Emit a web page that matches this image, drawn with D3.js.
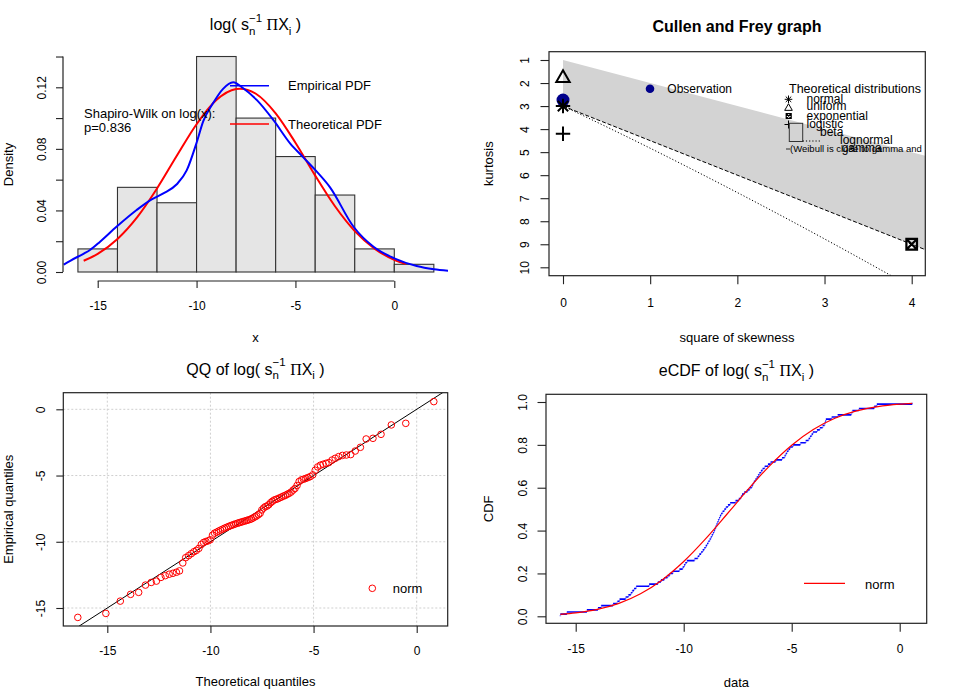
<!DOCTYPE html>
<html><head><meta charset="utf-8">
<script src="https://cdn.jsdelivr.net/npm/d3@7"></script>
<style>body{margin:0;background:#fff}</style>
</head><body><script>
// ---------------- DATA ----------------
const histBreaks = [-16,-14,-12,-10,-8,-6,-4,-2,0,2];
const histDensity = [0.015,0.055,0.045,0.14,0.10,0.075,0.05,0.015,0.005];
const empPdfX = [-16.72,-16.39,-15.7,-15.39,-14.88,-14.05,-13.03,-12.27,-11.68,-11.0,-10.5,-10.0,-9.66,-9.17,-8.66,-8.15,-7.64,-6.96,-6.12,-5.27,-4.6,-4.0,-3.25,-2.06,-1.05,0,1.13,2.0,2.72];
const empPdfY = [0.0048,0.0073,0.0120,0.0143,0.0197,0.0294,0.0403,0.0472,0.0511,0.0570,0.0660,0.0840,0.0980,0.1096,0.1190,0.1233,0.1194,0.1118,0.0988,0.0836,0.0745,0.0663,0.0550,0.0294,0.0164,0.0089,0.0039,0.0018,0.0008];
const theoPdfX = [-15.71,-15,-14,-13,-12,-11,-10,-9,-8,-7.8,-7,-6,-5,-4,-3,-2,-1,0,0.58];
const theoPdfY = [0.0073,0.0118,0.0215,0.0357,0.0543,0.0755,0.0960,0.1117,0.1189,0.1191,0.1158,0.1031,0.0840,0.0626,0.0427,0.0266,0.0152,0.0079,0.0052];
const histXTicks = [-15,-10,-5,0];
const histYTicks = [0,0.02,0.04,0.06,0.08,0.10,0.12,0.14];
const histYLabels = ["0.00","","0.04","","0.08","","0.12",""];

const cfSkew2 = [0, 4.3];
const cfKurtLimit = [1, 5.3];
const cfKurtGamma = [3, 9.45];
const cfLognormS2 = [0,0.465,0.961,1.488,2.048,2.641,3.267,3.928];
const cfLognormKurt = [3,3.838,4.756,5.759,6.850,8.035,9.320,10.71];
const obsSkew2 = [0.0];
const obsKurt = [2.74];
const theoNames = ["normal","uniform","exponential","logistic"];
const theoSkew2 = [0,0,4,0];
const theoKurt = [3,1.8,9,4.2];
const cfXTicks = [0,1,2,3,4];
const cfYTicks = [1,2,3,4,5,6,7,8,9,10];

const theoQuantiles = [-16.43,-15.07,-14.37,-13.87,-13.48,-13.15,-12.87,-12.62,-12.40,-12.19,
 -12.00,-11.82,-11.65,-11.50,-11.34,-11.20,-11.06,-10.93,-10.80,-10.68,
 -10.56,-10.44,-10.33,-10.22,-10.11,-10.01,-9.90,-9.80,-9.70,-9.61,
 -9.51,-9.41,-9.32,-9.23,-9.14,-9.05,-8.96,-8.87,-8.78,-8.69,
 -8.60,-8.52,-8.43,-8.35,-8.26,-8.18,-8.09,-8.01,-7.93,-7.84,
 -7.76,-7.67,-7.59,-7.51,-7.42,-7.34,-7.25,-7.17,-7.08,-7.00,
 -6.91,-6.82,-6.73,-6.64,-6.55,-6.46,-6.37,-6.28,-6.19,-6.09,
 -5.99,-5.90,-5.80,-5.70,-5.59,-5.49,-5.38,-5.27,-5.16,-5.04,
 -4.92,-4.80,-4.67,-4.54,-4.40,-4.26,-4.10,-3.95,-3.78,-3.60,
 -3.41,-3.20,-2.98,-2.73,-2.45,-2.12,-1.73,-1.23,-0.53,0.83];
const sampleSorted = [-15.71,-15.41,-14.48,-13.97,-13.82,-13.27,-13.07,-12.97,-12.69,-12.56,
 -12.45,-12.38,-12.30,-12.20,-11.60,-11.20,-11.05,-10.90,-10.75,-10.65,
 -10.50,-10.20,-10.05,-9.98,-9.93,-9.85,-9.50,-9.35,-9.28,-9.20,
 -9.12,-9.05,-8.98,-8.92,-8.86,-8.80,-8.75,-8.70,-8.65,-8.60,
 -8.56,-8.52,-8.48,-8.44,-8.40,-8.36,-8.32,-8.27,-8.20,-8.12,
 -8.05,-7.95,-7.85,-7.60,-7.45,-7.35,-7.30,-7.20,-7.05,-6.95,
 -6.85,-6.80,-6.75,-6.68,-6.62,-6.55,-6.50,-6.42,-6.35,-6.25,
 -6.10,-5.98,-5.75,-5.45,-5.33,-5.28,-5.22,-5.15,-5.08,-4.95,
 -4.60,-4.35,-4.22,-4.15,-4.08,-4.02,-3.83,-3.70,-3.57,-3.48,
 -3.45,-3.42,-3.15,-2.87,-2.24,-2.19,-1.89,-1.18,-1.06,0.58];
const qqRefLine = [-17.5, 2.0];
const qqXTicks = [-15,-10,-5,0];
const qqYTicks = [0,-5,-10,-15];

const theoCdfX = [-15.71,-15,-14,-13,-12,-11,-10,-9,-8,-7,-6,-5,-4,-3,-2,-1,0,0.58];
const theoCdfY = [0.0091,0.0158,0.0321,0.0603,0.1050,0.1698,0.2557,0.3601,0.4762,0.5944,0.7044,0.7984,0.8716,0.9241,0.9583,0.9788,0.9900,0.9938];
const cdfXTicks = [-15,-10,-5,0];
const cdfYTicks = [0,0.2,0.4,0.6,0.8,1.0];
const cdfYLabels = ["0.0","0.2","0.4","0.6","0.8","1.0"];

// ---------------- SETUP ----------------
const FONT = '"Liberation Sans", Arial, Helvetica, sans-serif';
const SERIF = '"Liberation Serif", "DejaVu Serif", serif';
const svg = d3.select("body").append("svg").attr("width",960).attr("height",690).style("display","block");
svg.append("rect").attr("width",960).attr("height",690).attr("fill","#fff");
const defs = svg.append("defs");
function clip(id,x0,y0,x1,y1){defs.append("clipPath").attr("id",id).append("rect").attr("x",x0).attr("y",y0).attr("width",x1-x0).attr("height",y1-y0);return `url(#${id})`;}
function txt(parent,x,y,s,size,o={}){
  const t=parent.append("text").attr("x",x).attr("y",y).attr("font-size",size).attr("font-family",o.family||FONT)
   .attr("fill","#000").attr("text-anchor",o.anchor||"start").style("white-space","pre").text(s);
  if(o.weight) t.attr("font-weight",o.weight);
  if(o.rotate) t.attr("transform",`rotate(-90,${x},${y})`);
  return t;
}
function box(x0,y0,x1,y1){svg.append("rect").attr("x",x0).attr("y",y0).attr("width",x1-x0).attr("height",y1-y0).attr("fill","none").attr("stroke","#222").attr("stroke-width",1.2);}
function yAxis(scale,ticks,labels,x,tick,labOff,drawLine){
  const g=svg.append("g").attr("transform",`translate(${x},0)`).call(d3.axisLeft(scale).tickValues(ticks).tickSize(tick).tickFormat((d,i)=>labels?labels[i]:String(d)));
  g.select(".domain").remove();
  g.selectAll(".tick line").attr("stroke","#222").attr("stroke-width",1.1);
  g.selectAll(".tick text").attr("x",null).attr("dy",null).attr("text-anchor","middle")
   .attr("transform",`translate(${-labOff},0) rotate(-90)`).attr("font-size",12).attr("font-family",FONT).attr("fill","#000");
  if(drawLine) g.append("line").attr("y1",scale(ticks[0])).attr("y2",scale(ticks[ticks.length-1])).attr("stroke","#222").attr("stroke-width",1.2);
}
function xAxis(scale,ticks,labels,y,tick,labOff,drawLine){
  const g=svg.append("g").attr("transform",`translate(0,${y})`).call(d3.axisBottom(scale).tickValues(ticks).tickSize(tick).tickFormat((d,i)=>labels?labels[i]:String(d)));
  g.select(".domain").remove();
  g.selectAll(".tick line").attr("stroke","#222").attr("stroke-width",1.1);
  g.selectAll(".tick text").attr("y",labOff).attr("dy",null).attr("font-size",12).attr("font-family",FONT).attr("fill","#000");
  if(drawLine) g.append("line").attr("x1",scale(ticks[0])).attr("x2",scale(ticks[ticks.length-1])).attr("stroke","#222").attr("stroke-width",1.2);
}
function mathTitle(cx,base,prefix){
  const g=svg.append("g");const fs=16,ss=11.5;let x=0;
  const put=(s,size,dy,fam)=>{const t=g.append("text").attr("x",x).attr("y",base+dy).attr("font-size",size)
    .attr("font-family",fam||FONT).attr("fill","#000").style("white-space","pre").text(s);return t.node().getComputedTextLength();};
  x+=put(prefix+"log( s",fs,0);
  const a=put("n",ss,4.5),b=put("\u22121",ss,-8.5);
  x+=Math.max(a,b);
  x+=put(" ",fs,0);
  x+=put("\u03A0",fs,0,SERIF);
  x+=put("X",fs,0);
  x+=put("i",ss,4.5);
  x+=put(" )",fs,0);
  g.attr("transform",`translate(${cx-x/2},0)`);
}

// ---------------- PANEL 1: histogram + densities ----------------
{
  const x=d3.scaleLinear().domain([-15,0]).range([97.7,394.3]);
  const y=d3.scaleLinear().domain([0,0.12]).range([272,87.3]);
  const g=svg.append("g");
  g.selectAll("rect.bar").data(histDensity).join("rect").attr("class","bar")
   .attr("x",(d,i)=>x(histBreaks[i])).attr("width",(d,i)=>x(histBreaks[i+1])-x(histBreaks[i]))
   .attr("y",d=>y(d)).attr("height",d=>y(0)-y(d)).attr("fill","#e5e5e5").attr("stroke","#333").attr("stroke-width",1.1);
  const cg=svg.append("g").attr("clip-path",clip("c1",63,48.4,448,280.6));
  const line=d3.line().x(d=>x(d[0])).y(d=>y(d[1])).curve(d3.curveMonotoneX);
  cg.append("path").attr("d",line(theoPdfX.map((v,i)=>[v,theoPdfY[i]]))).attr("fill","none").attr("stroke","#ff0000").attr("stroke-width",2);
  cg.append("path").attr("d",line(empPdfX.map((v,i)=>[v,empPdfY[i]]))).attr("fill","none").attr("stroke","#0000ff").attr("stroke-width",2);
  yAxis(y,histYTicks,histYLabels,63,7,17,true);
  xAxis(x,histXTicks,null,281,7,29,true);
  mathTitle(255.5,30,"");
  txt(svg,13,164.5,"Density",13,{anchor:"middle",rotate:true});
  txt(svg,255.5,341.5,"x",13,{anchor:"middle"});
  txt(svg,84,117.5,"Shapiro-Wilk on log(x):",13);
  txt(svg,84,132,"p=0.836",13);
  svg.append("line").attr("x1",230).attr("x2",269).attr("y1",85.7).attr("y2",85.7).attr("stroke","#0000ff").attr("stroke-width",1.5);
  svg.append("line").attr("x1",230).attr("x2",269).attr("y1",124).attr("y2",124).attr("stroke","#ff0000").attr("stroke-width",1.5);
  txt(svg,288,90,"Empirical PDF",13);
  txt(svg,288,128.5,"Theoretical PDF",13);
}

// ---------------- PANEL 2: Cullen and Frey ----------------
function marker(g,type,cx,cy,s,sw){
  const p=g.append("path").attr("fill","none").attr("stroke","#000").attr("stroke-width",sw);
  let d="";const k=s*0.72;
  if(type==="normal") d=`M${cx-s},${cy}H${cx+s}M${cx},${cy-s}V${cy+s}M${cx-k},${cy-k}L${cx+k},${cy+k}M${cx-k},${cy+k}L${cx+k},${cy-k}`;
  else if(type==="uniform") d=`M${cx},${cy-s}L${cx+s},${cy+s*0.75}L${cx-s},${cy+s*0.75}Z`;
  else if(type==="logistic") d=`M${cx-s},${cy}H${cx+s}M${cx},${cy-s}V${cy+s}`;
  else if(type==="exponential") d=`M${cx-s},${cy-s}H${cx+s}V${cy+s}H${cx-s}ZM${cx-s},${cy-s}L${cx+s},${cy+s}M${cx-s},${cy+s}L${cx+s},${cy-s}`;
  p.attr("d",d);
}
{
  const x=d3.scaleLinear().domain([0,4]).range([563,911.7]);
  const y=d3.scaleLinear().domain([1,10]).range([60,267.3]);
  const g=svg.append("g").attr("clip-path",clip("c2",549,51.7,925.3,275.7));
  const upper=cfSkew2.map((s,i)=>[x(s),y(cfKurtLimit[i])]);
  const lower=cfSkew2.map((s,i)=>[x(s),y(cfKurtGamma[i])]).reverse();
  g.append("path").attr("d",d3.line()(upper.concat(lower))+"Z").attr("fill","#d3d3d3");
  g.append("path").attr("d",d3.line()(cfSkew2.map((s,i)=>[x(s),y(cfKurtGamma[i])]))).attr("fill","none").attr("stroke","#000").attr("stroke-width",1).attr("stroke-dasharray","4,2");
  g.append("path").attr("d",d3.line().curve(d3.curveMonotoneX)(cfLognormS2.map((s,i)=>[x(s),y(cfLognormKurt[i])]))).attr("fill","none").attr("stroke","#000").attr("stroke-width",1).attr("stroke-dasharray","1.2,2");
  g.selectAll("circle.obs").data(obsSkew2).join("circle").attr("class","obs").attr("cx",d=>x(d)).attr("cy",(d,i)=>y(obsKurt[i])).attr("r",6.5).attr("fill","#00008b");
  theoNames.forEach((n,i)=>{
    if(n==="exponential") marker(g,n,x(theoSkew2[i]),y(theoKurt[i]),5.3,2.2);
    else if(n==="uniform") marker(g,n,x(theoSkew2[i]),y(theoKurt[i])-1.5,6.7,2);
    else marker(g,n,x(theoSkew2[i]),y(theoKurt[i]),7.2,2);
  });
  svg.append("circle").attr("cx",650).attr("cy",88.7).attr("r",4.3).attr("fill","#00008b");
  txt(svg,667.3,93,"Observation",12);
  txt(svg,789,93.3,"Theoretical distributions",12.5);
  marker(svg,"normal",788.5,99.3,3.8,1);
  txt(svg,806.5,103.3,"normal",12);
  marker(svg,"uniform",788.5,107.5,3.8,1);
  txt(svg,806.5,109.5,"uniform",12);
  marker(svg,"exponential",788.7,116,2.5,1.2);
  txt(svg,806.5,120,"exponential",12);
  marker(svg,"logistic",788.5,124.5,4,1);
  svg.append("rect").attr("x",789.3).attr("y",123.3).attr("width",13.4).attr("height",18.2).attr("fill","#d3d3d3").attr("stroke","#333").attr("stroke-width",1);
  txt(svg,806.5,128.3,"logistic",12);
  txt(svg,820,136,"beta",12);
  svg.append("line").attr("x1",802.7).attr("x2",820).attr("y1",141).attr("y2",141).attr("stroke","#000").attr("stroke-dasharray","1.2,2");
  txt(svg,840,144.3,"lognormal",12);
  txt(svg,841.7,151.7,"gamma",12);
  svg.append("line").attr("x1",786).attr("x2",790).attr("y1",149).attr("y2",149).attr("stroke","#000").attr("stroke-width",0.8);
  txt(svg,790,152.3,"(Weibull is close to gamma and",9.5);
  yAxis(y,cfYTicks,null,549,8.5,20,false);
  xAxis(x,cfXTicks,null,275.7,8.5,31.6,false);
  box(549,51.7,925.3,275.7);
  txt(svg,737,31.5,"Cullen and Frey graph",16,{anchor:"middle",weight:"bold"});
  txt(svg,493,163.7,"kurtosis",13,{anchor:"middle",rotate:true});
  txt(svg,737,341.5,"square of skewness",13,{anchor:"middle"});
}

// ---------------- PANEL 3: QQ plot ----------------
{
  const x=d3.scaleLinear().domain([-15,0]).range([107.3,416.7]);
  const y=d3.scaleLinear().domain([0,-15]).range([409.3,608]);
  const g=svg.append("g").attr("clip-path",clip("c3",63.3,392.7,447.7,626));
  g.selectAll("line.gx").data(qqXTicks).join("line").attr("class","gx").attr("x1",d=>x(d)).attr("x2",d=>x(d)).attr("y1",392.7).attr("y2",626).attr("stroke","#cfcfcf").attr("stroke-dasharray","2,2");
  g.selectAll("line.gy").data(qqYTicks).join("line").attr("class","gy").attr("y1",d=>y(d)).attr("y2",d=>y(d)).attr("x1",63.3).attr("x2",447.7).attr("stroke","#cfcfcf").attr("stroke-dasharray","2,2");
  g.append("line").attr("x1",x(qqRefLine[0])).attr("y1",y(qqRefLine[0])).attr("x2",x(qqRefLine[1])).attr("y2",y(qqRefLine[1])).attr("stroke","#000").attr("stroke-width",1);
  g.selectAll("circle.pt").data(sampleSorted).join("circle").attr("class","pt").attr("cx",(d,i)=>x(theoQuantiles[i])).attr("cy",d=>y(d)).attr("r",3.3).attr("fill","none").attr("stroke","#ff0000").attr("stroke-width",1);
  svg.append("circle").attr("cx",372.3).attr("cy",588.3).attr("r",3.3).attr("fill","none").attr("stroke","#ff0000");
  txt(svg,392.7,593.3,"norm",13);
  yAxis(y,qqYTicks,null,63.3,7,18,false);
  xAxis(x,qqXTicks,null,626,7,29,false);
  box(63.3,392.7,447.7,626);
  mathTitle(255.5,374.5,"QQ of ");
  txt(svg,13,509.3,"Empirical quantiles",13,{anchor:"middle",rotate:true});
  txt(svg,255.5,686,"Theoretical quantiles",13,{anchor:"middle"});
}

// ---------------- PANEL 4: eCDF ----------------
{
  const x=d3.scaleLinear().domain([-15,0]).range([575.7,899.7]);
  const y=d3.scaleLinear().domain([0,1]).range([616.3,402]);
  const n=sampleSorted.length;
  const g=svg.append("g").attr("clip-path",clip("c4",546,394.3,926.7,623.3));
  g.selectAll("line.v").data(sampleSorted).join("line").attr("class","v")
   .attr("x1",d=>x(d)).attr("x2",d=>x(d)).attr("y1",(d,i)=>y(i/n)).attr("y2",(d,i)=>y((i+1)/n))
   .attr("stroke","#0000ff").attr("stroke-opacity",0.55).attr("stroke-width",1.6).attr("stroke-dasharray","1,1");
  g.selectAll("line.h").data(sampleSorted.slice(0,n-1)).join("line").attr("class","h")
   .attr("x1",d=>x(d)).attr("x2",(d,i)=>x(sampleSorted[i+1])).attr("y1",(d,i)=>y((i+1)/n)).attr("y2",(d,i)=>y((i+1)/n))
   .attr("stroke","#0000ff").attr("stroke-width",1.6);
  g.append("path").attr("d",d3.line().x(d=>x(d[0])).y(d=>y(d[1])).curve(d3.curveMonotoneX)(theoCdfX.map((v,i)=>[v,theoCdfY[i]])))
   .attr("fill","none").attr("stroke","#ff0000").attr("stroke-width",1.2);
  svg.append("line").attr("x1",804).attr("x2",845).attr("y1",583.3).attr("y2",583.3).attr("stroke","#ff0000").attr("stroke-width",1.2);
  txt(svg,865,589.3,"norm",13);
  yAxis(y,cdfYTicks,cdfYLabels,546,8.5,19.3,false);
  xAxis(x,cdfXTicks,null,623.3,8.5,30,false);
  box(546,394.3,926.7,623.3);
  mathTitle(736.4,376,"eCDF of ");
  txt(svg,493,508.8,"CDF",13,{anchor:"middle",rotate:true});
  txt(svg,736.4,687,"data",13,{anchor:"middle"});
}
</script></body></html>
